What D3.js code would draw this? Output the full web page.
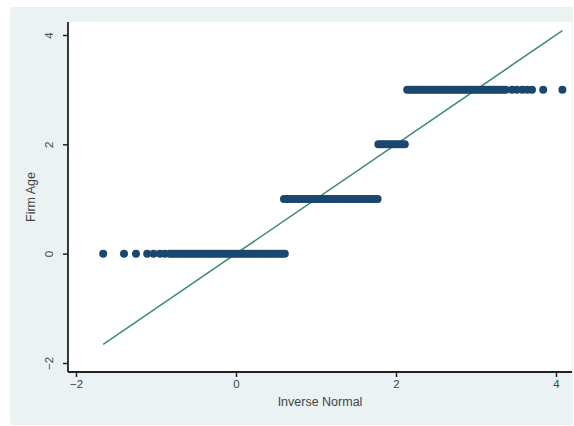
<!DOCTYPE html>
<html><head><meta charset="utf-8">
<script src="https://cdn.jsdelivr.net/npm/d3@7"></script>
<style>body{margin:0;background:#fff;}svg{display:block;}</style>
</head><body>
<svg id="c" width="574" height="426"></svg>
<script>
// Firm Age quantiles vs inverse normal (x in data units)
const age0X = [-1.66,-1.40,-1.25,-1.11,-1.03,-0.95,-0.89,-0.83,-0.80,-0.77,-0.74,-0.71,-0.68,-0.65,-0.62,-0.59,-0.56,-0.53,-0.50,-0.47,-0.44,-0.41,-0.38,-0.35,-0.32,-0.29,-0.26,-0.23,-0.20,-0.17,-0.14,-0.11,-0.08,-0.05,-0.02,0.01,0.04,0.07,0.10,0.13,0.16,0.19,0.22,0.25,0.28,0.31,0.34,0.37,0.40,0.43,0.46,0.49,0.52,0.55,0.58,0.61];
const age1X = [0.60,0.63,0.66,0.69,0.72,0.75,0.78,0.81,0.84,0.87,0.90,0.93,0.96,0.99,1.02,1.05,1.08,1.11,1.14,1.17,1.20,1.23,1.26,1.29,1.32,1.35,1.38,1.41,1.44,1.47,1.50,1.53,1.56,1.59,1.62,1.65,1.68,1.71,1.74,1.77];
const age2X = [1.78,1.81,1.84,1.87,1.90,1.93,1.96,1.99,2.02,2.05,2.08,2.11];
const age3X = [2.14,2.17,2.20,2.23,2.26,2.29,2.32,2.35,2.38,2.41,2.44,2.47,2.50,2.53,2.56,2.59,2.62,2.65,2.68,2.71,2.74,2.77,2.80,2.83,2.86,2.89,2.92,2.95,2.98,3.01,3.04,3.07,3.10,3.13,3.16,3.19,3.22,3.25,3.28,3.31,3.34,3.37,3.45,3.51,3.58,3.64,3.70,3.84,4.08];
const ageLevels = [0,1,2,3];
const xTicks = [-2,0,2,4];
const yTicks = [-2,0,2,4];
const refLine = [-1.66, 4.08];

const svg = d3.select("#c");
const pl = 68, pr = 572, pt = 22, pb = 372;

svg.append("rect").attr("x",10).attr("y",7).attr("width",563).attr("height",418).attr("fill","#eaf2f3");
svg.append("rect").attr("x",pl).attr("y",pt).attr("width",pr-pl).attr("height",pb-pt).attr("fill","#ffffff");

const x = d3.scaleLinear().domain([-2,4]).range([76,556]);
const y = d3.scaleLinear().domain([-2,4]).range([363,35]);

// reference line
svg.append("line")
  .attr("x1",x(refLine[0])).attr("y1",y(refLine[0]))
  .attr("x2",x(refLine[1])).attr("y2",y(refLine[1]))
  .attr("stroke","#3f8f7a").attr("stroke-width",1.6);

// points
const series = [age0X, age1X, age2X, age3X];
const pts = [];
series.forEach((arr,i)=>arr.forEach(v=>pts.push({x:v,y:ageLevels[i]})));
svg.append("g").selectAll("circle").data(pts).join("circle")
  .attr("cx",d=>x(d.x)).attr("cy",d=>y(d.y)).attr("r",4)
  .attr("fill","#1a476f");

// axes
const fontF = "'Liberation Sans', Arial, sans-serif";
const gx = svg.append("g").attr("transform",`translate(0,${pb})`)
  .call(d3.axisBottom(x).tickValues(xTicks).tickSize(5).tickPadding(3).tickFormat(d3.format("d")));
gx.select(".domain").attr("d",`M${pl},0H${pr}`).attr("stroke","#222").attr("stroke-width",1.8);
gx.selectAll(".tick line").attr("stroke","#222").attr("stroke-width",1.5);
gx.selectAll(".tick text").attr("font-family",fontF).attr("font-size",11.5).attr("fill","#444");

const gy = svg.append("g").attr("transform",`translate(${pl},0)`)
  .call(d3.axisLeft(y).tickValues(yTicks).tickSize(5).tickPadding(0).tickFormat(d3.format("d")));
gy.select(".domain").attr("d",`M0,${pt}V${pb}`).attr("stroke","#222").attr("stroke-width",1.8);
gy.selectAll(".tick line").attr("stroke","#222").attr("stroke-width",1.5);
gy.selectAll(".tick text").attr("font-family",fontF).attr("font-size",11.5).attr("fill","#444")
  .attr("text-anchor","middle").attr("transform","rotate(-90)").attr("x",0).attr("y",-19).attr("dy","0.35em");

svg.append("text").attr("x",(pl+pr)/2).attr("y",406).attr("text-anchor","middle")
  .attr("font-family",fontF).attr("font-size",12.5).attr("fill","#444").text("Inverse Normal");
svg.append("text").attr("transform",`translate(35,${(pt+pb)/2}) rotate(-90)`).attr("text-anchor","middle")
  .attr("font-family",fontF).attr("font-size",12.5).attr("fill","#444").text("Firm Age");
</script>
</body></html>
